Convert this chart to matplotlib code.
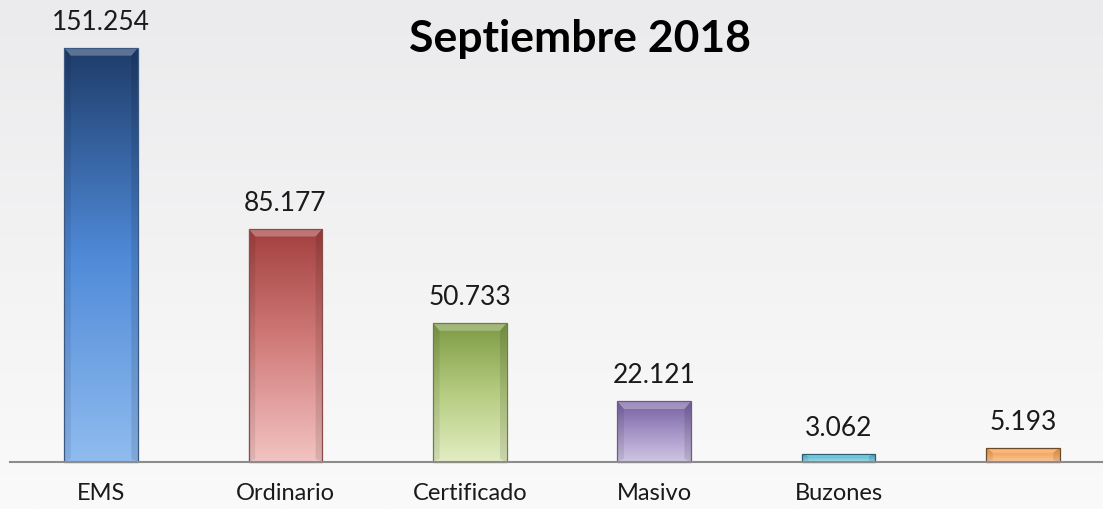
"""Septiembre 2018 bar chart with gradient-filled bars."""
import matplotlib
matplotlib.use("Agg")
import matplotlib.pyplot as plt
import numpy as np
from matplotlib.colors import LinearSegmentedColormap

categories = ["EMS", "Ordinario", "Certificado", "Masivo", "Buzones", ""]
values = [151.254, 85.177, 50.733, 22.121, 3.062, 5.193]
value_labels = ["151.254", "85.177", "50.733", "22.121", "3.062", "5.193"]
title = "Septiembre 2018"

# bottom, middle, top colour for each bar
bar_colors = [
    ("#90bcef", "#4f8ad8", "#1e3c69"),
    ("#f2c4c3", "#d27e7c", "#a23f3e"),
    ("#e2edc2", "#b5cc80", "#7d9a45"),
    ("#d0c5e3", "#a493c6", "#7660a0"),
    ("#a8dcea", "#6cc4da", "#3aa8c4"),
    ("#f5c9a0", "#f6ac66", "#f7902f"),
]
edge_colors = ["#3a5a85", "#8a4b4b", "#6a7f40", "#6b5b88", "#2b5f6e", "#6b4a2b"]

plt.rcParams["font.family"] = ["Lato", "DejaVu Sans"]

fig = plt.figure(figsize=(11.03, 5.09), dpi=100)
fig.patch.set_facecolor("#f0f0f2")
ax = fig.add_axes([0, 0, 1, 1])
ax.set_facecolor("none")

x = np.arange(len(categories))
ax.set_xlim(-0.548, 5.434)
ax.set_ylim(-17.2, 168.8)

# subtle background gradient
bg = np.linspace(1, 0, 256).reshape(-1, 1)
bg_cmap = LinearSegmentedColormap.from_list("bg", ["#ebebed", "#fafafa"])
ax.imshow(bg, cmap=bg_cmap, aspect="auto", extent=[-0.548, 5.434, -17.2, 168.8],
          origin="lower", zorder=0)

bars = ax.bar(x, values, width=0.40, facecolor="none",
              edgecolor=edge_colors, linewidth=0.9, zorder=3)

grad = np.linspace(0, 1, 256).reshape(-1, 1)
for bar, cols in zip(bars, bar_colors):
    bx, by = bar.get_x(), bar.get_y()
    bw, bh = bar.get_width(), bar.get_height()
    cmap = LinearSegmentedColormap.from_list("g", list(cols))
    im = ax.imshow(grad, cmap=cmap, aspect="auto", origin="lower",
                   extent=[bx, bx + bw, by, by + bh], zorder=2)
    im.set_clip_path(bar)
    # bevel highlight at the top and darker sides
    bev_h = min(2.8, bh * 0.35)
    bev_w = bw * 0.09
    ax.fill([bx, bx + bw, bx + bw - bev_w, bx + bev_w],
            [by + bh, by + bh, by + bh - bev_h, by + bh - bev_h],
            color="white", alpha=0.28, lw=0, zorder=2.5)
    ax.fill([bx, bx + bev_w, bx + bev_w, bx],
            [by, by + bev_h * 0.4, by + bh - bev_h, by + bh],
            color="black", alpha=0.08, lw=0, zorder=2.5)
    ax.fill([bx + bw, bx + bw - bev_w, bx + bw - bev_w, bx + bw],
            [by, by + bev_h * 0.4, by + bh - bev_h, by + bh],
            color="black", alpha=0.10, lw=0, zorder=2.5)

ax.axhline(0, xmin=10 / 1103, xmax=1, color="#8c8c8c", lw=1.5, zorder=4)

for xi, v, lab in zip(x, values, value_labels):
    ax.text(xi, v + 9.3, lab, ha="center", va="center", fontsize=19, color="#1a1a1a")

for xi, cat in zip(x, categories):
    ax.text(xi, -11.6, cat, ha="center", va="center", fontsize=17, color="#1a1a1a")

fig.text(580 / 1103, 1 - 39 / 509, title, ha="center", va="center",
         fontsize=32, fontweight="bold", color="black")

ax.axis("off")
fig.savefig("out.png", dpi=100, facecolor=fig.get_facecolor())
